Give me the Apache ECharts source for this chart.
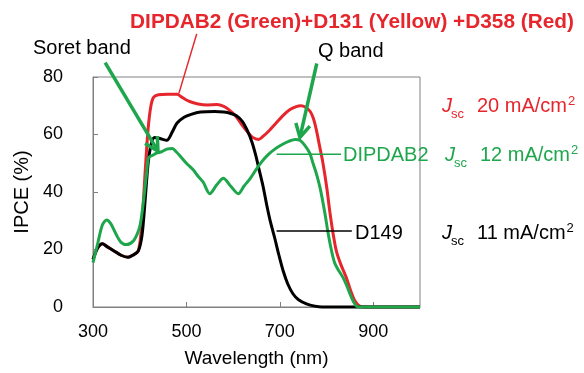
<!DOCTYPE html>
<html>
<head>
<meta charset="utf-8">
<script src="https://cdn.jsdelivr.net/npm/echarts@6/dist/echarts.min.js"></script>
<style>
  html, body { margin: 0; padding: 0; background: #fff; }
  #chart { width: 584px; height: 373px; }
</style>
</head>
<body>
<div id="chart"></div>
<script>
// Wavelength (nm) / IPCE (%)
const redWl = [300, 310, 320, 330, 345, 360, 375, 385, 397, 405, 412, 418, 424, 430, 440, 460, 480, 490, 500, 510, 525, 545, 565, 580, 592, 605, 618, 630, 642, 654, 665, 678, 692, 706, 721, 735, 745, 755, 765, 772, 778, 785, 792, 800, 807, 814, 821, 830, 842, 852, 860, 872, 885, 1000];
const redIpce = [16.5, 20.5, 22, 21, 19.5, 18, 17.3, 18, 19.5, 30, 48, 62, 70, 73, 73.8, 74, 74, 73, 72, 71.3, 70.6, 70.3, 70.4, 69.8, 68.5, 66.5, 63.5, 61, 59, 58.3, 59.5, 61.5, 64, 66.5, 68.6, 69.7, 70, 69.5, 68, 65.5, 61.7, 56, 50.3, 42, 33.1, 25.5, 19.4, 15, 10.3, 5.5, 2.3, 0.2, 0, 0];

const d149Wl = [300, 310, 320, 330, 345, 360, 375, 385, 397, 405, 412, 418, 425, 432, 445, 458, 470, 480, 495, 510, 530, 560, 580, 595, 607, 620, 630, 640, 648, 656, 664, 672, 680, 689, 698, 707, 717, 728, 740, 757, 775, 790, 1000];
const d149Ipce = [16.5, 20.5, 22, 21, 19.5, 18, 17.3, 18, 19.5, 25, 38, 50, 57, 59, 58.5, 58, 61, 64, 66, 67, 67.8, 68, 67.8, 67.3, 66.5, 64.5, 61.5, 57.5, 53, 47.5, 42, 35.4, 29.5, 24, 18, 12.6, 8, 4.6, 2.5, 1.1, 0.3, 0, 0];

const greenWl = [300, 310, 320, 329, 338, 350, 360, 372, 386, 395, 401, 406, 411, 415, 419, 428, 436, 447, 458, 470, 478, 486, 500, 514, 525, 536, 550, 565, 579, 595, 611, 623, 636, 648, 661, 675, 690, 705, 720, 733, 743, 753, 764, 771, 778, 786, 796, 803, 810, 817, 823, 835, 843, 850, 857, 864, 875, 1000];
const greenIpce = [15.4, 22, 28.5, 30.3, 29, 25.1, 22.5, 21.7, 22.9, 25.5, 28.6, 34, 41.1, 47, 52, 52.8, 53.5, 54, 54.9, 55.1, 54, 52.6, 50, 47.8, 45.5, 43.4, 39.4, 42.5, 44.8, 42, 39.4, 42, 44.6, 47.5, 50.5, 53, 55, 56.5, 57.7, 58.3, 58, 56.3, 53.5, 50, 46.5, 41.5, 33, 26, 20, 15.5, 13.5, 10.3, 7.5, 4.6, 2, 0.3, 0, 0];

const xTicks = [300, 500, 700, 900];
const yTicks = [0, 20, 40, 60, 80];

const RED = '#e6262c';
const GREEN = '#1ea64c';
const BLACK = '#000';
const GRID_COLOR = '#808080';
const FONT = 'Liberation Sans, Arial, sans-serif';

const zip = (xs, ys) => xs.map((x, i) => [x, ys[i]]);

const chart = echarts.init(document.getElementById('chart'));

const axisCommon = {
    axisLine: { show: true, lineStyle: { color: GRID_COLOR, width: 1 } },
    axisTick: { show: true, inside: true, length: 5, lineStyle: { color: GRID_COLOR } },
    splitLine: { show: false },
    axisLabel: { color: '#000', fontSize: 18, fontFamily: FONT },
    nameTextStyle: { color: '#000', fontSize: 19, fontFamily: FONT },
};

chart.setOption({
    animation: false,
    grid: {
        left: 93, right: 164, top: 77, bottom: 63,
        show: true, borderColor: GRID_COLOR, borderWidth: 1,
    },
    xAxis: {
        ...axisCommon,
        type: 'value',
        min: xTicks[0],
        max: 1000,
        interval: 200,
        name: 'Wavelength (nm)',
        nameLocation: 'middle',
        nameGap: 42,
        axisLabel: { ...axisCommon.axisLabel, margin: 16, showMaxLabel: false },
    },
    yAxis: {
        ...axisCommon,
        type: 'value',
        min: yTicks[0],
        max: yTicks[yTicks.length - 1],
        interval: 20,
        name: 'IPCE (%)',
        nameLocation: 'middle',
        nameGap: 60,
        nameTextStyle: { ...axisCommon.nameTextStyle, fontSize: 20 },
        // labels sit a little below their ticks in the original
        axisLabel: { ...axisCommon.axisLabel, margin: 30, padding: [8, 0, 0, 0] },
    },
    series: [
        { name: 'Red', data: zip(redWl, redIpce), color: RED },
        { name: 'D149', data: zip(d149Wl, d149Ipce), color: BLACK },
        { name: 'DIPDAB2', data: zip(greenWl, greenIpce), color: GREEN },
    ].map(s => ({
        ...s,
        type: 'line',
        smooth: 0.3,
        showSymbol: false,
        clip: false,
        lineStyle: { width: 3, color: s.color },
    })),
});

// annotation anchors in data coordinates [wavelength, IPCE]
const soretArrow = [[326, 85], [439, 54.2]];
const qArrow = [[779, 84.7], [743, 59]];
const redLeader = [[522, 95], [484, 74.4]];
const greenLeader = [[693, 53.1], [831, 53.1]];
const blackLeader = [[693, 26.4], [854, 26.4]];

const px = p => chart.convertToPixel({ gridIndex: 0 }, p);

const line = (pts, color, width) => ({
    type: 'polyline', silent: true, z: 10,
    shape: { points: pts.map(px) },
    style: { stroke: color, lineWidth: width, fill: null },
});

const arrow = (pts, color) => {
    const a = px(pts[0]);
    const b = px(pts[1]);
    const ang = Math.atan2(b[1] - a[1], b[0] - a[0]);
    const len = 15, spread = 0.5;
    const l = [b[0] - len * Math.cos(ang - spread), b[1] - len * Math.sin(ang - spread)];
    const r = [b[0] - len * Math.cos(ang + spread), b[1] - len * Math.sin(ang + spread)];
    return [
        { type: 'polyline', silent: true, z: 10, shape: { points: [a, b] }, style: { stroke: color, lineWidth: 3.5 } },
        { type: 'polyline', silent: true, z: 10, shape: { points: [l, b, r] }, style: { stroke: color, lineWidth: 3.5, fill: null, lineJoin: 'miter' } },
    ];
};

const text = (x, y, str, color, size, extra = {}) => ({
    type: 'text', silent: true, z: 11, x, y,
    style: {
        text: str, fill: color, fontSize: size, fontFamily: FONT,
        align: 'left', verticalAlign: 'middle', ...extra,
    },
});

// measure text width so the superscript sits right after "cm"
const ctx = document.createElement('canvas').getContext('2d');
const measure = (str, size) => {
    ctx.font = size + 'px ' + FONT;
    return ctx.measureText(str).width;
};

const jsc = (x, y, value, color) => {
    const main = value + ' mA/cm';
    const w = measure(main, 20);
    return [
        text(x, y, 'J', color, 20, { fontStyle: 'italic' }),
        text(x + 9, y + 8, 'sc', color, 13),
        text(x + 35, y, main, color, 20),
        text(x + 35 + w + 1, y - 5, '2', color, 13),
    ];
};

chart.setOption({
    graphic: [
        line(redLeader, RED, 1.5),
        line(greenLeader, GREEN, 1.5),
        line(blackLeader, BLACK, 1.5),
        ...arrow(soretArrow, GREEN),
        ...arrow(qArrow, GREEN),
        text(352, 22, 'DIPDAB2 (Green)+D131 (Yellow) +D358 (Red)', RED, 20.8, { align: 'center', fontWeight: 'bold' }),
        text(33, 48.5, 'Soret band', BLACK, 20),
        text(318, 51, 'Q band', BLACK, 20),
        text(343, 155, 'DIPDAB2', GREEN, 20),
        text(355, 233.5, 'D149', BLACK, 20),
        ...jsc(442, 106.5, '20', RED),
        ...jsc(445, 155, '12', GREEN),
        ...jsc(442, 233.5, '11', BLACK),
    ],
});
</script>
</body>
</html>
